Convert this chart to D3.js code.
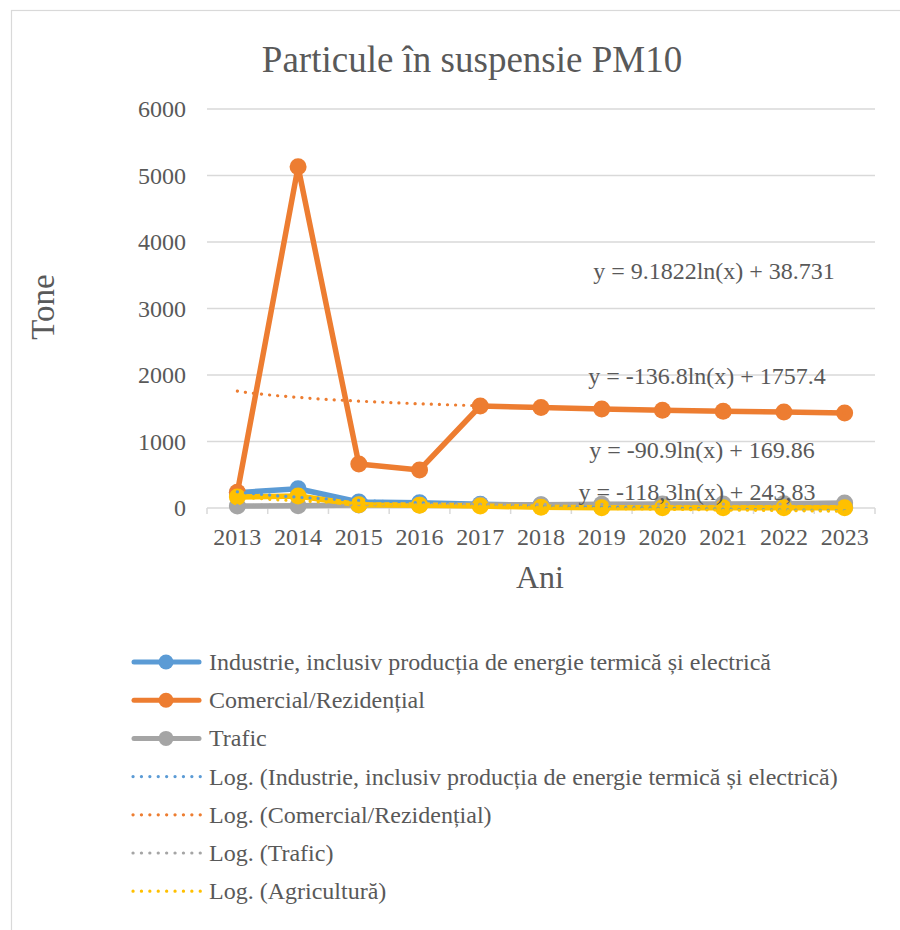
<!DOCTYPE html>
<html><head><meta charset="utf-8">
<script src="https://cdn.jsdelivr.net/npm/d3@7"></script>
<style>body{margin:0;background:#fff}svg{display:block}svg text{font-family:"Liberation Serif",serif;fill:#595959}</style>
</head><body>
<script>
const years = ["2013","2014","2015","2016","2017","2018","2019","2020","2021","2022","2023"];
const industrie = [230, 290, 90, 80, 55, 45, 15, 25, 25, 20, 15];
const comercial = [235, 5130, 662, 572, 1534, 1510, 1490, 1470, 1455, 1445, 1430];
const trafic = [30, 35, 45, 45, 45, 50, 55, 60, 60, 65, 75];
const agricultura = [165, 180, 50, 40, 30, 10, 5, 5, 5, 5, 3];
const seriesNames = ["Industrie, inclusiv producția de energie termică și electrică","Comercial/Rezidențial","Trafic","Agricultură"];
const seriesColors = ["#5B9BD5","#ED7D31","#A5A5A5","#FFC000"];
// trendline coefficients (y = a ln(x) + b), as printed on the chart
const trendA = [-118.3, -136.8, 9.1822, -90.9];
const trendB = [243.83, 1757.4, 38.731, 169.86];
const trendLabels = ["y = -118,3ln(x) + 243,83","y = -136.8ln(x) + 1757.4","y = 9.1822ln(x) + 38.731","y = -90.9ln(x) + 169.86"];
const trendLabelPos = [[697,500],[707,384],[714,279],[702,458]];
const yTicks = [0,1000,2000,3000,4000,5000,6000];
const legendItems = [
  {name:"Industrie, inclusiv producția de energie termică și electrică", s:0, type:"line"},
  {name:"Comercial/Rezidențial", s:1, type:"line"},
  {name:"Trafic", s:2, type:"line"},
  {name:"Log. (Industrie, inclusiv producția de energie termică și electrică)", s:0, type:"trend"},
  {name:"Log. (Comercial/Rezidențial)", s:1, type:"trend"},
  {name:"Log. (Trafic)", s:2, type:"trend"},
  {name:"Log. (Agricultură)", s:3, type:"trend"}
];

const FF="Liberation Serif";
const W=900,H=930;
const svg=d3.select("body").append("svg").attr("width",W).attr("height",H);
svg.append("rect").attr("x",11.5).attr("y",10.5).attr("width",W).attr("height",H).attr("fill","#fff").attr("stroke","#d9d9d9").attr("stroke-width",1.2);

const x0=207,x1=875,y0=508,y1=109;
const x=d3.scaleBand().domain(years).range([x0,x1]);
const y=d3.scaleLinear().domain([0,6000]).range([y0,y1]);
const cx=d=>x(d)+x.bandwidth()/2;

// gridlines
svg.append("g").selectAll("line").data(yTicks.slice(1)).join("line")
  .attr("x1",x0).attr("x2",x1).attr("y1",d=>y(d)).attr("y2",d=>y(d))
  .attr("stroke","#d9d9d9").attr("stroke-width",1.5);
// y labels
svg.append("g").selectAll("text").data(yTicks).join("text")
  .attr("x",186).attr("y",d=>y(d)+8).attr("text-anchor","end").attr("font-family",FF).attr("font-size",24).text(d=>d);
// x axis
const xa=svg.append("g").attr("transform",`translate(0,${y0})`).call(d3.axisBottom(x).tickSize(0).tickPadding(20));
xa.select(".domain").remove();
xa.selectAll("text").attr("font-size",24).attr("fill","#595959").attr("font-family",FF);
svg.append("line").attr("x1",x0).attr("x2",x1).attr("y1",y0).attr("y2",y0).attr("stroke","#d9d9d9").attr("stroke-width",1.5);
svg.append("g").selectAll("line").data(d3.range(years.length+1)).join("line")
  .attr("x1",i=>x0+i*x.step()).attr("x2",i=>x0+i*x.step()).attr("y1",y0).attr("y2",y0+6)
  .attr("stroke","#d9d9d9").attr("stroke-width",1.5);

// title & axis titles
svg.append("text").attr("x",472).attr("y",72).attr("text-anchor","middle").attr("font-family",FF).attr("font-size",37).text("Particule în suspensie PM10");
svg.append("text").attr("x",540).attr("y",588).attr("text-anchor","middle").attr("font-family",FF).attr("font-size",32).text("Ani");
svg.append("text").attr("transform","translate(54,307) rotate(-90)").attr("text-anchor","middle").attr("font-family",FF).attr("font-size",33).text("Tone");

// series
const allSeries=[industrie,comercial,trafic,agricultura];
const line=d3.line().x((d,i)=>cx(years[i])).y(d=>y(d));
allSeries.forEach((vals,s)=>{
  const g=svg.append("g");
  g.append("path").datum(vals).attr("d",line).attr("fill","none").attr("stroke",seriesColors[s]).attr("stroke-width",5.5).attr("stroke-linejoin","round").attr("stroke-linecap","round");
  g.selectAll("circle").data(vals).join("circle").attr("cx",(d,i)=>cx(years[i])).attr("cy",d=>y(d)).attr("r",8.5).attr("fill",seriesColors[s]);
});

// trendlines
trendA.forEach((a,s)=>{
  const pts=d3.range(1,years.length+0.001,0.1).map(t=>[x0+(t-0.5)*x.step(), y(a*Math.log(t)+trendB[s])]);
  svg.append("path").attr("d",d3.line()(pts)).attr("fill","none").attr("stroke",seriesColors[s])
    .attr("stroke-width",3.2).attr("stroke-dasharray","0.1 8").attr("stroke-linecap","round");
});
// trend labels
trendLabels.forEach((t,s)=>{
  svg.append("text").attr("x",trendLabelPos[s][0]).attr("y",trendLabelPos[s][1]).attr("text-anchor","middle").attr("font-family",FF).attr("font-size",24).text(t);
});

// legend
const lg=svg.append("g");
legendItems.forEach((it,i)=>{
  const ly=662+i*38.2;
  const col=seriesColors[it.s];
  if(it.type==="line"){
    lg.append("line").attr("x1",134).attr("x2",199).attr("y1",ly).attr("y2",ly).attr("stroke",col).attr("stroke-width",5).attr("stroke-linecap","round");
    lg.append("circle").attr("cx",166).attr("cy",ly).attr("r",7.5).attr("fill",col);
  } else {
    lg.append("line").attr("x1",133).attr("x2",201).attr("y1",ly).attr("y2",ly).attr("stroke",col).attr("stroke-width",3.2).attr("stroke-dasharray","0.1 8.3").attr("stroke-linecap","round");
  }
  lg.append("text").attr("x",209).attr("y",ly+8).attr("font-family",FF).attr("font-size",24).text(it.name);
});
</script>
</body></html>
